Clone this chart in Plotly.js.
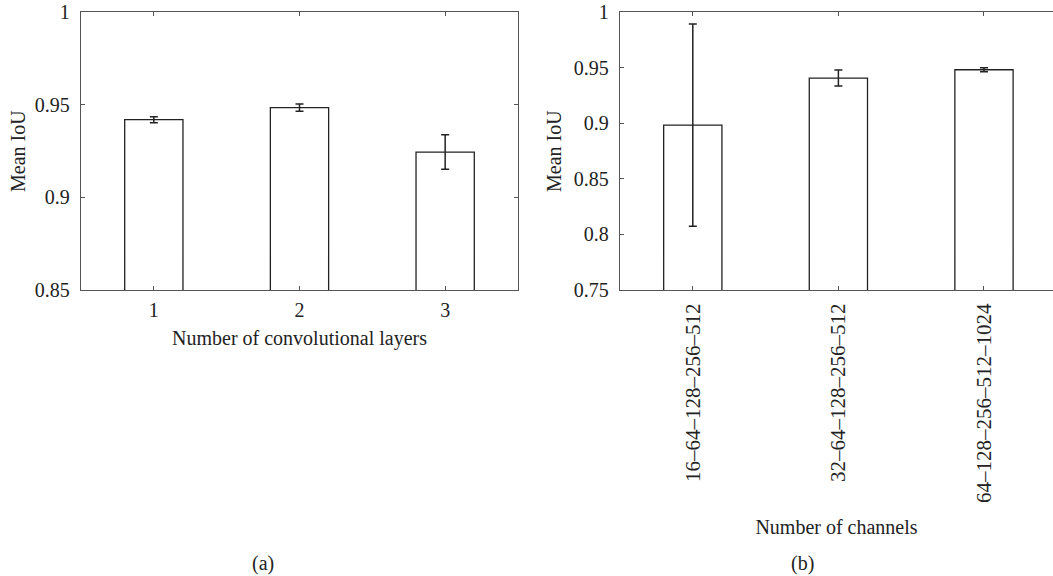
<!DOCTYPE html>
<html>
<head>
<meta charset="utf-8">
<script src="https://cdn.plot.ly/plotly-3.0.1.min.js"></script>
<style>
html,body{margin:0;padding:0;background:#fff;overflow:hidden;}
#chart{width:1053px;height:576px;}
</style>
</head>
<body>
<div id="chart"></div>
<script>
// Panel (a)
const layersCats = ['1', '2', '3'];
const layersMean = [0.942, 0.9485, 0.9245];
const layersErr = [0.0016, 0.002, 0.0093];
const layersYTicks = [0.85, 0.9, 0.95, 1];

// Panel (b)
const channelCats = ['16–64–128–256–512', '32–64–128–256–512', '64–128–256–512–1024'];
const channelMean = [0.8985, 0.9408, 0.9483];
const channelErr = [0.091, 0.0072, 0.0018];
const channelYTicks = [0.75, 0.8, 0.85, 0.9, 0.95, 1];

const ink = '#222';
const axisCol = '#555';
const fontFam = '"Liberation Serif", "Times New Roman", serif';

const barStyle = {color: '#ffffff', line: {color: ink, width: 1.3}};
const errStyle = (arr) => ({type: 'data', array: arr, visible: true, color: ink, thickness: 1.5, width: 4});

const traces = [
  {type: 'bar', x: layersCats, y: layersMean, width: 0.4, marker: barStyle,
   error_y: errStyle(layersErr), xaxis: 'x', yaxis: 'y', hoverinfo: 'none'},
  {type: 'bar', x: channelCats, y: channelMean, width: 0.4, marker: barStyle,
   error_y: errStyle(channelErr), xaxis: 'x2', yaxis: 'y2', hoverinfo: 'none'}
];

const W = 1053, H = 576;
const yDom = [1 - 290 / H, 1 - 12.3 / H];
const common = {
  showline: true, linecolor: axisCol, linewidth: 1.2,
  ticks: 'inside', ticklen: 4, tickcolor: axisCol, tickwidth: 1,
  showgrid: false, zeroline: false, automargin: false,
  tickfont: {family: fontFam, size: 20, color: ink}
};

const layout = {
  width: W, height: H,
  margin: {l: 0, r: 0, t: 0, b: 0, pad: 0},
  paper_bgcolor: '#fff', plot_bgcolor: '#fff',
  showlegend: false,
  font: {family: fontFam, size: 20, color: ink},
  xaxis: Object.assign({}, common, {
    domain: [81 / W, 518 / W], type: 'category', range: [-0.5, 2.5],
    mirror: 'ticks', ticklabelstandoff: 2,
    title: {text: 'Number of convolutional layers', standoff: 10, font: {family: fontFam, size: 20, color: ink}}
  }),
  yaxis: Object.assign({}, common, {
    domain: yDom, range: [0.85, 1], tickvals: layersYTicks,
    mirror: 'ticks', ticklabelstandoff: 6,
    title: {text: 'Mean IoU', standoff: 3, font: {family: fontFam, size: 20, color: ink}}
  }),
  xaxis2: Object.assign({}, common, {
    domain: [620 / W, 1], type: 'category', range: [-0.5, 2.474],
    anchor: 'y2', mirror: 'ticks', tickangle: -90, ticklabelstandoff: 4,
    tickfont: {family: fontFam, size: 21, color: ink},
    title: {text: 'Number of channels', standoff: 18, font: {family: fontFam, size: 20, color: ink}}
  }),
  yaxis2: Object.assign({}, common, {
    domain: yDom, range: [0.75, 1], tickvals: channelYTicks,
    anchor: 'x2', mirror: false, ticklabelstandoff: 6,
    title: {text: 'Mean IoU', standoff: 6, font: {family: fontFam, size: 20, color: ink}}
  }),
  annotations: [
    {text: '(a)', xref: 'paper', yref: 'paper', x: 263 / W, y: 1 - 563 / H,
     xanchor: 'center', yanchor: 'middle', showarrow: false, font: {family: fontFam, size: 20, color: ink}},
    {text: '(b)', xref: 'paper', yref: 'paper', x: 802 / W, y: 1 - 563 / H,
     xanchor: 'center', yanchor: 'middle', showarrow: false, font: {family: fontFam, size: 20, color: ink}}
  ]
};

Plotly.newPlot('chart', traces, layout, {staticPlot: true, displayModeBar: false});
</script>
</body>
</html>
